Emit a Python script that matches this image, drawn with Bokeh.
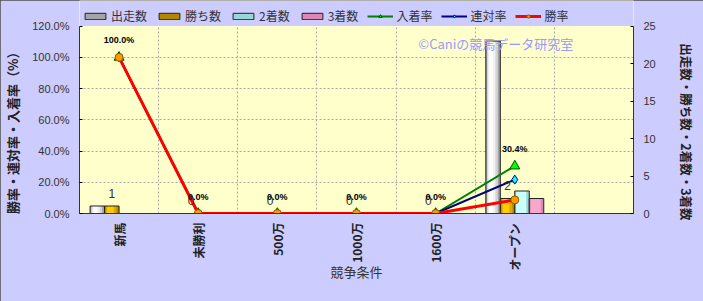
import math
from bokeh.plotting import figure
from bokeh.models import (ColumnDataSource, Range1d, LinearAxis, FixedTicker,
                          PrintfTickFormatter, CustomJSTickFormatter, Legend, LegendItem,
                          LabelSet, Label, BoxAnnotation)
from bokeh.transform import dodge
from bokeh.core.properties import value
from bokeh.embed import file_html
from bokeh.resources import INLINE

# ---------------- data ----------------
categories = ["新馬", "未勝利", "500万", "1000万", "1600万", "オープン", ""]
starts = [1, 0, 0, 0, 0, 23]          # 出走数
wins = [1, 0, 0, 0, 0, 2]             # 勝ち数
seconds = [0, 0, 0, 0, 0, 3]          # 2着数
thirds = [0, 0, 0, 0, 0, 2]           # 3着数
win_rate = [100.0, 0.0, 0.0, 0.0, 0.0, 8.7]       # 勝率
rentai_rate = [100.0, 0.0, 0.0, 0.0, 0.0, 21.7]   # 連対率
place_rate = [100.0, 0.0, 0.0, 0.0, 0.0, 30.4]    # 入着率
left_ticks = [0, 20, 40, 60, 80, 100, 120]
right_ticks = [0, 5, 10, 15, 20, 25]

JP = "Noto Sans CJK JP"
NUM = "Liberation Sans"
TOP_PAD = 1.1367   # headroom above the plot area that holds the legend
SHIFT = "\u3000" * 4   # ideographic spaces: nudge the rotated axis titles toward the plot centre

n_cat = len(categories)
n = len(starts)
xs = [i + 0.5 for i in range(n)]

src = ColumnDataSource(dict(
    x=xs, starts=starts, wins=wins, seconds=seconds, thirds=thirds,
    win_rate=win_rate, rentai_rate=rentai_rate, place_rate=place_rate,
    place_lbl=[f"{v:.1f}%" for v in place_rate],
    wins_lbl=[str(v) for v in wins],
))

p = figure(width=703, height=301,
           x_range=Range1d(0, n_cat),
           y_range=Range1d(left_ticks[0], left_ticks[-1] * TOP_PAD),
           output_backend="svg", toolbar_location=None,
           min_border_left=78, min_border_right=70,
           min_border_top=0, min_border_bottom=88,
           background_fill_color="#ffffcc", border_fill_color="#ccccff",
           outline_line_color=None)
p.extra_y_ranges = {"cnt": Range1d(right_ticks[0], right_ticks[-1] * TOP_PAD)}
p.styles = {"outline": "1px solid #505050", "outline-offset": "-1px"}

# ---------------- axes ----------------
xa = p.xaxis[0]
xa.ticker = FixedTicker(ticks=xs)
xa.formatter = CustomJSTickFormatter(args=dict(cats=categories),
                                     code="const c = cats[Math.floor(tick)]; return c ? c : '';")
xa.major_label_orientation = math.pi / 2
xa.major_label_text_font = JP
xa.major_label_text_font_size = "12px"
xa.major_label_text_font_style = "bold"
xa.major_label_text_color = "#222222"
xa.major_label_standoff = 9
xa.major_tick_in = 0
xa.major_tick_out = 0
xa.minor_tick_line_color = None
xa.axis_line_color = "#333333"
xa.axis_label = "競争条件"
xa.axis_label_text_font = JP
xa.axis_label_text_font_size = "13px"
xa.axis_label_text_font_style = "normal"
xa.axis_label_text_color = "#333333"
xa.axis_label_standoff = -12

ya = p.yaxis[0]
ya.ticker = FixedTicker(ticks=left_ticks)
ya.bounds = (left_ticks[0], left_ticks[-1])
ya.formatter = PrintfTickFormatter(format="%.1f%%")
ya.major_label_text_font = NUM
ya.major_label_text_font_size = "11px"
ya.major_label_text_color = "#333333"
ya.major_label_standoff = 10
ya.major_tick_in = 3
ya.major_tick_out = 0
ya.minor_tick_line_color = None
ya.axis_line_color = "#333333"
ya.axis_label = "勝率・連対率・入着率（%）" + SHIFT
ya.axis_label_text_font = JP
ya.axis_label_text_font_size = "13px"
ya.axis_label_text_font_style = "bold"
ya.axis_label_text_color = "#222222"
ya.axis_label_standoff = 7

ra = LinearAxis(y_range_name="cnt", ticker=FixedTicker(ticks=right_ticks),
                bounds=(right_ticks[0], right_ticks[-1]))
ra.major_label_text_font = NUM
ra.major_label_text_font_size = "11px"
ra.major_label_text_color = "#333333"
ra.major_label_standoff = 10
ra.major_tick_in = 3
ra.major_tick_out = 0
ra.minor_tick_line_color = None
ra.axis_line_color = "#333333"
ra.axis_label = SHIFT + "出走数・勝ち数・2着数・3着数"
ra.axis_label_text_font = JP
ra.axis_label_text_font_size = "12.5px"
ra.axis_label_text_font_style = "bold"
ra.axis_label_text_color = "#222222"
ra.axis_label_standoff = 18
p.add_layout(ra, "right")

# ---------------- grid ----------------
p.xgrid.ticker = FixedTicker(ticks=list(range(1, n_cat)))
p.xgrid.grid_line_color = "#a8a8a8"
p.xgrid.grid_line_dash = "2 2"
p.ygrid.ticker = FixedTicker(ticks=left_ticks[1:-1])
p.ygrid.grid_line_color = "#a8a8a8"
p.ygrid.grid_line_dash = "2 2"

# ---------------- bars (cylinder-like shading) ----------------
BW = 0.183
offsets = [-1.5 * BW, -0.5 * BW, 0.5 * BW, 1.5 * BW]

def cyl_bar(field, off, layers, edge):
    rs = []
    for frac, col in layers:
        shift = -(1 - frac) * 0.18 * BW
        rs.append(p.vbar(x=dodge("x", off + shift, range=p.x_range), width=BW * frac,
                         top=field, bottom=0, source=src, y_range_name="cnt",
                         fill_color=col, line_color=None))
    rs.append(p.vbar(x=dodge("x", off, range=p.x_range), width=BW, top=field, bottom=0,
                     source=src, y_range_name="cnt", fill_alpha=0,
                     line_color=edge, line_width=1))
    return rs

r_starts = cyl_bar("starts", offsets[0],
                   [(1.0, "#a4a4a4"), (0.75, "#d4d4d4"), (0.5, "#f2f2f2"), (0.25, "#ffffff")], "#222222")
r_wins = cyl_bar("wins", offsets[1],
                 [(1.0, "#b38600"), (0.75, "#dcaa00"), (0.45, "#ffcc00")], "#222222")
r_sec = cyl_bar("seconds", offsets[2],
                [(1.0, "#99d6d6"), (0.7, "#ccffff")], "#222222")
r_thr = cyl_bar("thirds", offsets[3],
                [(1.0, "#dd88b4"), (0.7, "#f7a6cc")], "#222222")

# ---------------- lines ----------------
l_pl = p.line("x", "place_rate", source=src, line_color="#008000", line_width=2)
m_pl = p.scatter("x", "place_rate", source=src, marker="triangle", size=10,
                 fill_color="#00ff00", line_color="#005000")
l_rt = p.line("x", "rentai_rate", source=src, line_color="#000080", line_width=2)
m_rt = p.scatter("x", "rentai_rate", source=src, marker="diamond", size=9,
                 fill_color="#00ffff", line_color="#000080")
l_wr = p.line("x", "win_rate", source=src, line_color="#ff0000", line_width=3)
m_wr = p.scatter("x", "win_rate", source=src, marker="circle", size=8,
                 fill_color="#ff9900", line_color="#8a5a00")

# ---------------- data labels ----------------
p.add_layout(LabelSet(x=dodge("x", offsets[1], range=p.x_range), y="wins", text="wins_lbl",
                      source=src, y_range_name="cnt", y_offset=13,
                      text_align="center", text_baseline="middle",
                      text_font=value(NUM), text_font_size=value("12px"),
                      text_color="#333333"))
p.add_layout(LabelSet(x="x", y="place_rate", text="place_lbl", source=src, y_offset=17,
                      text_align="center", text_baseline="middle",
                      text_font=value(NUM), text_font_size=value("9px"),
                      text_font_style="bold", text_color="#000000"))

# watermark
p.add_layout(Label(x=5.26, y=108.7, text="©Caniの競馬データ研究室",
                   text_font=JP, text_font_size="13px", text_color="#9999ff",
                   text_align="center", text_baseline="middle"))

# lavender strip above the plotting area (legend band)
p.add_layout(BoxAnnotation(bottom=left_ticks[-1], fill_color="#ccccff", fill_alpha=1.0,
                           line_color=None))

# ---------------- legend ----------------
legend = Legend(items=[
    LegendItem(label="出走数", renderers=[r_starts[0], r_starts[-1]]),
    LegendItem(label="勝ち数", renderers=[r_wins[0], r_wins[-1]]),
    LegendItem(label="2着数", renderers=[r_sec[0], r_sec[-1]]),
    LegendItem(label="3着数", renderers=[r_thr[0], r_thr[-1]]),
    LegendItem(label="入着率", renderers=[l_pl, m_pl]),
    LegendItem(label="連対率", renderers=[l_rt, m_rt]),
    LegendItem(label="勝率", renderers=[l_wr, m_wr]),
], orientation="horizontal", location=(-1, 185),
   label_text_font=JP, label_text_font_size="12px", label_text_color="#333333",
   glyph_width=26, glyph_height=8, label_standoff=3, spacing=9,
   padding=4, margin=0, label_height=16,
   background_fill_alpha=0, border_line_alpha=0)
p.add_layout(legend, "center")

open("out.html", "w").write(file_html(p, INLINE))
